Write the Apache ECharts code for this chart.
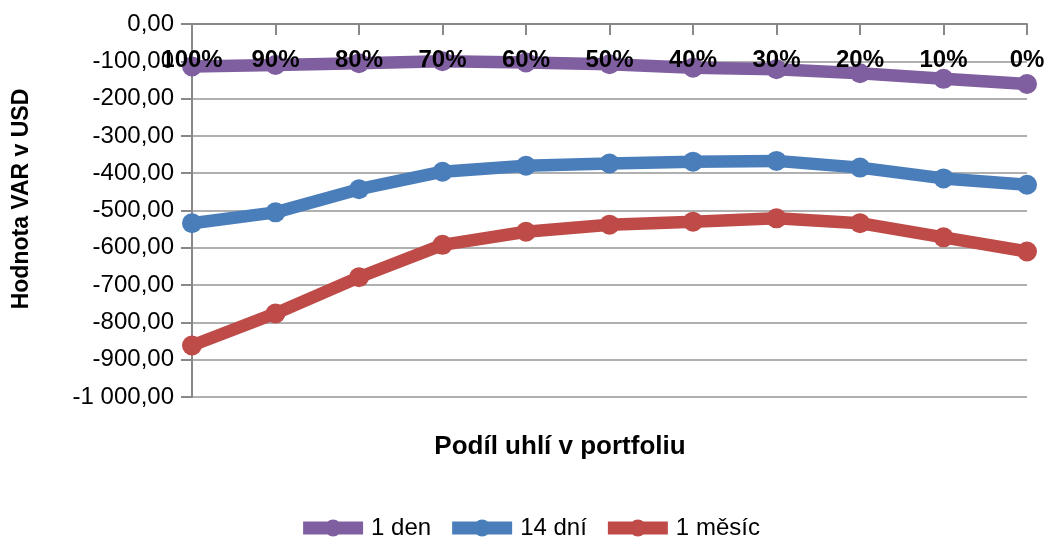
<!DOCTYPE html>
<html>
<head>
<meta charset="utf-8">
<script src="https://cdn.jsdelivr.net/npm/echarts@6/dist/echarts.min.js"></script>
<style>
html,body{margin:0;padding:0;background:#fff;}
#chart{width:1063px;height:538px;}
</style>
</head>
<body>
<div id="chart"></div>
<script>
const categories = ['100%','90%','80%','70%','60%','50%','40%','30%','20%','10%','0%'];
const den1 = [-114,-110,-105,-100,-103,-108,-117,-121,-132,-147,-161];
const dni14 = [-534,-505,-443,-396,-380,-374,-369,-367,-385,-414,-431];
const mesic1 = [-862,-776,-679,-592,-557,-538,-530,-521,-534,-572,-610];
const seriesNames = ['1 den','14 dní','1 měsíc'];
const colors = ['#7F5FA0','#4A7EBB','#BE4B48'];
const yMin = -1000, yMax = 0, yStep = 100;

function fmt(v){
  const neg = v < 0;
  const a = Math.abs(v);
  const s = Math.floor(a).toString().replace(/\B(?=(\d{3})+(?!\d))/g,' ');
  return (neg ? '-' : '') + s + ',00';
}

const chart = echarts.init(document.getElementById('chart'));
const font = 'Liberation Sans, Arial, sans-serif';
const legendIcon = 'path://M0,2H24.52A8.5,8.5 0 0 1 35.48,2H60V15H35.48A8.5,8.5 0 0 1 24.52,15H0Z';
function line(name, data, color){
  return {
    name, type:'line', data, symbol:'circle', symbolSize:20,
    lineStyle:{width:12.5,color}, itemStyle:{color}, z:2
  };
}
chart.setOption({
  animation:false,
  textStyle:{fontFamily:font},
  grid:{left:192,right:36,top:24,bottom:141},
  xAxis:{
    type:'category', data:categories, position:'top', boundaryGap:false, z:5,
    axisLine:{lineStyle:{color:'#888',width:2}},
    axisTick:{inside:true,length:11,lineStyle:{color:'#888',width:2}},
    axisLabel:{inside:true,margin:24,fontSize:24,fontWeight:'bold',color:'#000',fontFamily:font},
    splitLine:{show:false}
  },
  yAxis:{
    type:'value', min:yMin, max:yMax, interval:yStep,
    axisLine:{show:true,lineStyle:{color:'#888',width:2}},
    axisTick:{show:true,length:11,lineStyle:{color:'#888',width:2}},
    axisLabel:{margin:18,fontSize:24,color:'#000',fontFamily:font,formatter:fmt},
    splitLine:{lineStyle:{color:'#b0b0b0',width:2}}
  },
  legend:{
    data:seriesNames.map(n=>({name:n,icon:legendIcon})), top:511, left:'center', itemWidth:60, itemHeight:17, itemGap:21,
    textStyle:{fontSize:24,color:'#000',fontFamily:font,padding:[0,0,0,3]}
  },
  graphic:[{
    type:'text', x:560, y:447,
    style:{text:'Podíl uhlí v portfoliu', font:'bold 26px Liberation Sans', fill:'#000', textAlign:'center', textVerticalAlign:'middle'}
  },{
    type:'text', x:22, y:199, rotation:Math.PI/2,
    style:{text:'Hodnota VAR v USD', font:'bold 23px Liberation Sans', fill:'#000', textAlign:'center', textVerticalAlign:'middle'}
  }],
  series:[line(seriesNames[0],den1,colors[0]),line(seriesNames[1],dni14,colors[1]),line(seriesNames[2],mesic1,colors[2])]
});
</script>
</body>
</html>
